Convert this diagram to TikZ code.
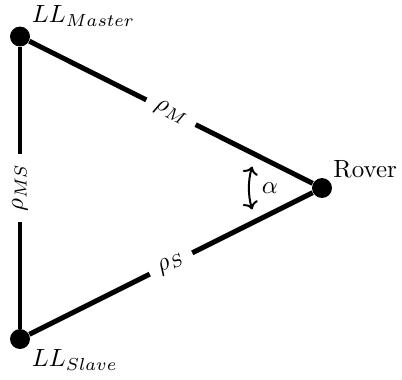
\documentclass[tikz,border=0pt]{standalone}
\usetikzlibrary{arrows.meta}
\begin{document}
\begin{tikzpicture}[x=0.4016pt,y=-0.4016pt,
  station/.style={circle,fill=black,inner sep=0pt,minimum size=8pt},
  link/.style={line width=2pt},
  dist/.style={midway,sloped,fill=white,inner sep=4pt},
  tag/.style={inner sep=0pt}]
\useasboundingbox (0,0) rectangle (402,379);
\node[station] (M) at (20,36.5) {};
\node[station] (S) at (20,339) {};
\node[station] (R) at (322,188) {};
\node[tag,anchor=base west] (ML) at (31.5,22.5) {$LL_{Master}$};
\node[tag,anchor=base west] (SL) at (31.5,366.5) {$LL_{Slave}$};
\node[tag,anchor=base west] (RL) at (333,177) {Rover};
\draw[link] (M) -- node[dist] (rm) {$\rho_M$} (R);
\draw[link] (S) -- node[dist] (rs) {$\rho_S$} (R);
\draw[link] (S) -- node[dist] (rms) {$\rho_{MS}$} (M);
\draw[line width=0.8pt,{To[length=3pt]}-{To[length=3pt]}] ([shift={(163:73)}]R.center) arc[start angle=163,end angle=197,radius=73];
\node[tag] (al) at (270,188) {$\alpha$};
\end{tikzpicture}
\end{document}
